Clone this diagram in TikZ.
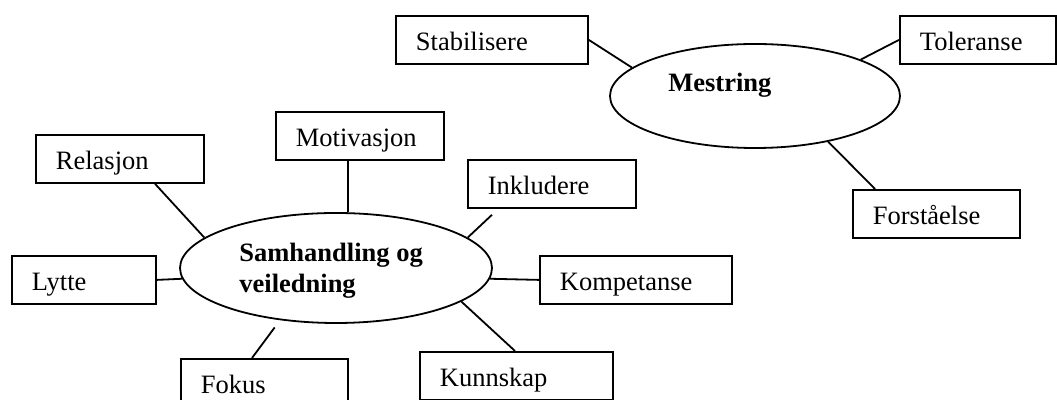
\documentclass[tikz,border=0pt]{standalone}
\usepackage{fontspec}
\setmainfont{Liberation Serif}
\usetikzlibrary{shapes.geometric}

\begin{document}
\begin{tikzpicture}[x=0.5pt,y=-0.5pt,
  every node/.style={font=\fontsize{13.25}{15.5}\selectfont},
  boks/.style={draw, line width=0.9pt, anchor=north west, inner xsep=10pt, inner ysep=0pt,
    text height=17.5pt, text depth=6.5pt, text width=#1, align=left},
  sirkel/.style={draw, ellipse, line width=0.9pt, inner sep=0pt},
  tittel/.style={font=\fontsize{13.25}{15.5}\selectfont\bfseries, inner sep=0pt, anchor=base west, align=left},
  strek/.style={line width=0.9pt}]
\useasboundingbox (0,0) rectangle (1057,400);
% Mestring
\node[sirkel, minimum width=145pt, minimum height=52pt] (mes) at (755,96) {};
\node[tittel] (mestxt) at (668,92) {Mestring};
\node[boks=76pt] (stab) at (395,15) {Stabilisere};
\node[boks=58pt] (tol) at (899,15) {Toleranse};
\node[boks=63.5pt] (forst) at (852,189) {Forståelse};
% Samhandling og veiledning
\node[sirkel, minimum width=156pt, minimum height=55pt] (sam) at (336,268) {};
\node[tittel] (samtxt) at (239,293) {Samhandling og\\veiledning};
\node[boks=64pt] (rel) at (35,134) {Relasjon};
\node[boks=64pt] (mot) at (275,111) {Motivasjon};
\node[boks=64pt] (ink) at (467,159) {Inkludere};
\node[boks=52pt] (lyt) at (11,255) {Lytte};
\node[boks=76pt] (komp) at (539,255) {Kompetanse};
\node[boks=76.5pt] (kunn) at (419,351) {Kunnskap};
\node[boks=63.5pt] (fok) at (180,358) {Fokus};
% streker
\draw[strek] (stab.east) -- (mes.167);
\draw[strek] (tol.west) -- (mes.19);
\draw[strek] ([xshift=11.5pt]forst.north west) -- (mes.-32);
\draw[strek] ([xshift=60pt]rel.south west) -- (sam.167);
\draw[strek] ([xshift=-6pt]mot.south) -- ([xshift=-6pt]mot.south |- sam.north);
\draw[strek] ([xshift=12.5pt,yshift=-3pt]ink.south west) -- (sam.13);
\draw[strek] (lyt.east) -- (sam.184);
\draw[strek] (sam.-4) -- (komp.west);
\draw[strek] (sam.-15) -- ([xshift=48pt]kunn.north west);
\draw[strek] ([xshift=36pt]fok.north west) -- ([yshift=-4pt]sam.220);
\end{tikzpicture}
\end{document}
